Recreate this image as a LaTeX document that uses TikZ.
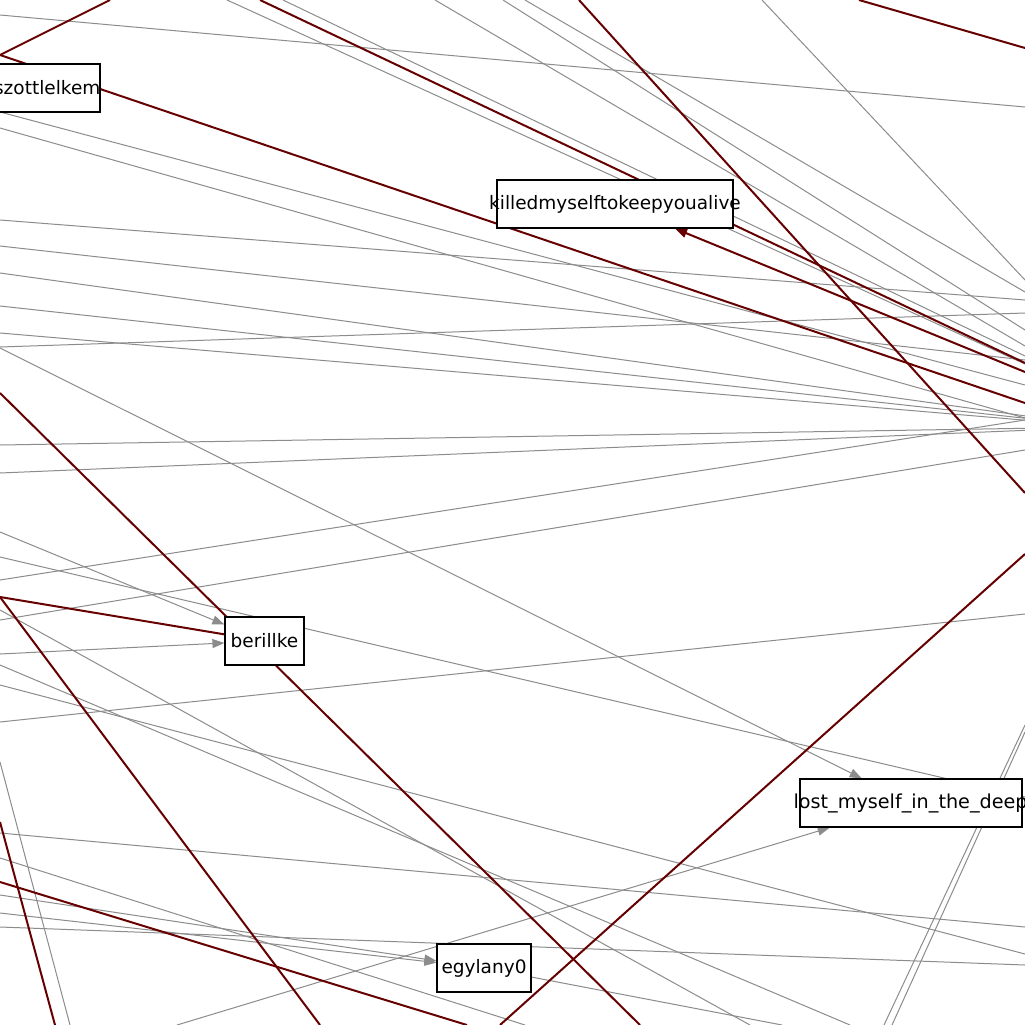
\documentclass[tikz,border=0pt]{standalone}
\usepackage{fontspec}
\setmainfont{DejaVu Sans}
\usetikzlibrary{arrows.meta,backgrounds}
\definecolor{linkgray}{RGB}{140,140,140}
\definecolor{linkred}{RGB}{102,0,0}
\tikzset{
  user/.style={draw=black, fill=white, line width=1.2pt, inner sep=0pt, minimum height=48pt},
  graylink/.style={draw=linkgray, line width=1pt},
  redlink/.style={draw=linkred, line width=2pt},
  arrowed/.style={-{Triangle[length=12pt,width=9pt]}}
}

\begin{document}
\begin{tikzpicture}[x=1pt,y=-1pt,font=\fontsize{18.5}{22}\selectfont]
    \useasboundingbox (0,0) rectangle (1025,1025);

    \node[user, minimum width=160pt, label={[anchor=east,inner sep=0pt]east:szottlelkem}] (szott) at (20,88) {};
    \node[user, minimum width=236pt] (kill) at (615,204) {\makebox[0pt]{killedmyselftokeepyoualive}};
    \node[user, minimum width=79pt] (ber) at (264.5,641) {berillke};
    \node[user, minimum width=222pt, label={[anchor=west,inner sep=0pt,xshift=-6pt,font=\fontsize{19.2}{22}\selectfont]west:lost\_myself\_in\_the\_deep}] (lost) at (911,803) {};
    \node[user, minimum width=94pt] (egy) at (484,968) {egylany0};

    % users outside the frame
    \coordinate (w15) at (0,15);   \coordinate (w55) at (0,55);
    \coordinate (w112) at (0,112); \coordinate (w128) at (0,128);
    \coordinate (w220) at (0,220); \coordinate (w246) at (0,246);
    \coordinate (w273) at (0,273); \coordinate (w306) at (0,306);
    \coordinate (w333) at (0,333); \coordinate (w347) at (0,347);
    \coordinate (w348) at (0,348); \coordinate (w393) at (0,393);
    \coordinate (w445) at (0,445); \coordinate (w473) at (0,473);
    \coordinate (w532) at (0,532); \coordinate (w557) at (0,557);
    \coordinate (w580) at (0,580); \coordinate (w597) at (0,597);
    \coordinate (w610) at (0,610); \coordinate (w620) at (0,620);
    \coordinate (w654) at (0,654); \coordinate (w665) at (0,665);
    \coordinate (w685) at (0,685); \coordinate (w722) at (0,722);
    \coordinate (w762) at (0,762); \coordinate (w822) at (0,822);
    \coordinate (w833) at (0,833); \coordinate (w858) at (0,858);
    \coordinate (w882) at (0,882); \coordinate (w895) at (0,895);
    \coordinate (w913) at (0,913); \coordinate (w927) at (0,927);

    \coordinate (n110) at (110,0); \coordinate (n227) at (227,0);
    \coordinate (n260) at (260,0); \coordinate (n283) at (283,0);
    \coordinate (n435) at (435,0); \coordinate (n503) at (503,0);
    \coordinate (n525) at (525,0); \coordinate (n579) at (579,0);
    \coordinate (n762) at (762,0); \coordinate (n859) at (859,0);

    \coordinate (e48) at (1025,48);   \coordinate (e107) at (1025,107);
    \coordinate (e280) at (1025,280); \coordinate (e292) at (1025,292);
    \coordinate (e300) at (1025,300); \coordinate (e313) at (1025,313);
    \coordinate (e330) at (1025,330); \coordinate (e346) at (1025,346);
    \coordinate (e356) at (1025,356); \coordinate (e360) at (1025,360);
    \coordinate (e363) at (1025,363); \coordinate (e364) at (1025,364);
    \coordinate (e372) at (1025,372); \coordinate (e385) at (1025,385);
    \coordinate (e403) at (1025,403); \coordinate (e418) at (1025,418);
    \coordinate (e420) at (1025,420); \coordinate (e450) at (1025,450);
    \coordinate (e493) at (1025,493); \coordinate (e554) at (1025,554);
    \coordinate (e614) at (1025,614); \coordinate (e725) at (1025,725);
    \coordinate (e732) at (1025,732); \coordinate (e797) at (1025,797);
    \coordinate (e927) at (1025,927); \coordinate (e954) at (1025,954);
    \coordinate (e965) at (1025,965);
    \coordinate (hub) at (1105,427);

    \coordinate (s55) at (55,1025);   \coordinate (s70) at (70,1025);
    \coordinate (s177) at (177,1025); \coordinate (s320) at (320,1025);
    \coordinate (s467) at (467,1025); \coordinate (s500) at (500,1025);
    \coordinate (s525) at (525,1025); \coordinate (s640) at (640,1025);
    \coordinate (s750) at (750,1025); \coordinate (s782) at (782,1025);
    \coordinate (s850) at (850,1025); \coordinate (s884) at (884,1025);
    \coordinate (s892) at (892,1025);

    \begin{scope}[on background layer]
        \fill[white] (0,0) rectangle (1025,1025);
        \clip (0,0) rectangle (1025,1025);

        \draw[graylink] (w15) -- (e107);
        \draw[graylink] (w112) -- (e385);
        \draw[graylink] (w128) -- (e418);
        \draw[graylink] (w220) -- (e300);
        \draw[graylink] (w246) -- (e360);
        \draw[graylink] (w273) -- (hub);
        \draw[graylink] (w306) -- (hub);
        \draw[graylink] (w333) -- (hub);
        \draw[graylink] (w445) -- (hub);
        \draw[graylink] (w473) -- (hub);
        \draw[graylink] (w347) -- (e313);
        \draw[graylink] (n227) -- (e364);
        \draw[graylink] (n283) -- (e356);
        \draw[graylink] (n435) -- (e346);
        \draw[graylink] (n503) -- (e330);
        \draw[graylink] (n525) -- (e292);
        \draw[graylink] (n762) -- (e280);
        \draw[graylink] (w557) -- (e797);
        \draw[graylink] (w580) -- (e420);
        \draw[graylink] (w620) -- (e450);
        \draw[graylink] (w722) -- (e614);
        \draw[graylink] (w610) -- (s750);
        \draw[graylink] (w665) -- (s850);
        \draw[graylink] (w685) -- (e954);
        \draw[graylink] (w762) -- (s70);
        \draw[graylink] (w833) -- (e927);
        \draw[graylink] (w858) -- (s525);
        \draw[graylink] (w927) -- (e965);
        \draw[graylink] (egy) -- (s782);
        \draw[graylink] (e725) -- (s884);
        \draw[graylink] (e732) -- (s892);
        \draw[graylink, arrowed] (w348) -- (lost);
        \draw[graylink, arrowed] (s177) -- (lost);
        \draw[graylink, arrowed] (w532) -- (ber);
        \draw[graylink, arrowed] (w654) -- (ber);
        \draw[graylink, arrowed] (w895) -- (egy);
        \draw[graylink, arrowed] (w913) -- (egy);

        \draw[redlink] (w55) -- (n110);
        \draw[redlink] (w55) -- (e403);
        \draw[redlink] (n260) -- (e363);
        \draw[redlink] (n579) -- (e493);
        \draw[redlink] (n859) -- (e48);
        \draw[redlink] (w393) -- (s640);
        \draw[redlink] (w597) -- (s320);
        \draw[redlink] (w597) -- (ber);
        \draw[redlink] (w882) -- (s467);
        \draw[redlink] (w822) -- (s55);
        \draw[redlink] (s500) -- (e554);
        \draw[redlink, arrowed] (e372) -- (kill);
    \end{scope}
\end{tikzpicture}
\end{document}
